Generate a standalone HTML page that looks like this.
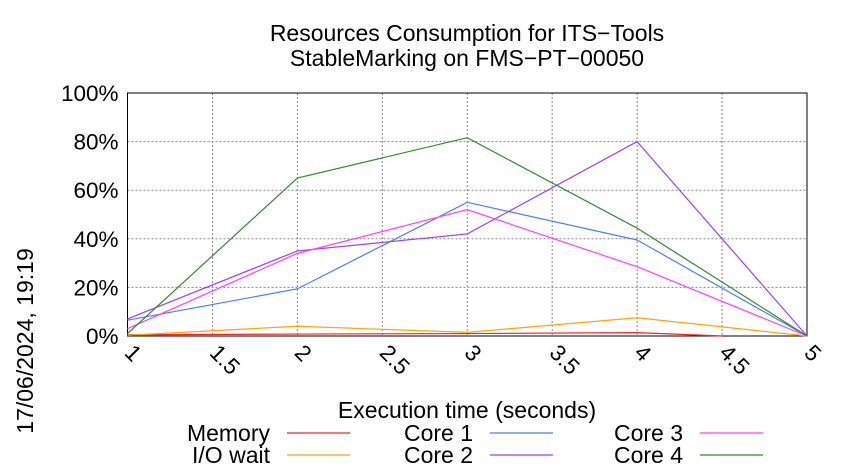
<!DOCTYPE html>
<html><head><meta charset="utf-8"><style>
body{margin:0;background:#fff}
svg{display:block;font-family:"Liberation Sans",sans-serif}
</style></head><body>
<svg id="chart" width="850" height="475" viewBox="0 0 850 475">
<rect width="850" height="475" fill="#fff"/>
<text x="467" y="41" text-anchor="middle" font-size="23">Resources Consumption for ITS−Tools</text>
<text x="467" y="66" text-anchor="middle" font-size="23">StableMarking on FMS−PT−00050</text>
<text transform="translate(33,341) rotate(-90)" text-anchor="middle" font-size="23">17/06/2024, 19:19</text>
<text x="467" y="418" text-anchor="middle" font-size="23">Execution time (seconds)</text>
<g id="grid"></g><g id="axes"></g><g id="series"></g><g id="legend"></g>
</svg>
<script>
const xTicks=[1,1.5,2,2.5,3,3.5,4,4.5,5];
const xTickLabels=["1","1.5","2","2.5","3","3.5","4","4.5","5"];
const yTicks=[0,20,40,60,80,100];
const yTickLabels=["0%","20%","40%","60%","80%","100%"];
const memoryX=[1,2,3,4,4.5];
const memoryY=[0.5,0.8,1,1.4,0];
const timeX=[1,2,3,4,5];
const ioWait=[0.3,4,1.5,7.5,0];
const core1=[6.5,19.4,55,39.5,0];
const core2=[7,35,42,80,0];
const core3=[3,34,52,28.5,0];
const core4=[1,65,81.6,44.4,0];
const seriesNames=["Memory","I/O wait","Core 1","Core 2","Core 3","Core 4"];
const seriesColors=["#ff2020","#ffa500","#4a7ef0","#9a40f0","#ff40ff","#2e8b2e"];
const L=127.5,R=807,T=93,B=336;
const sx=v=>L+(v-1)/4*(R-L);
const sy=v=>B-v/100*(B-T);
const NS="http://www.w3.org/2000/svg";
function mk(t,a,p){const e=document.createElementNS(NS,t);for(const k in a)e.setAttribute(k,a[k]);p.appendChild(e);return e;}
const grid=document.getElementById('grid'),axes=document.getElementById('axes'),ser=document.getElementById('series'),leg=document.getElementById('legend');
xTicks.forEach((v,i)=>{
 if(i>0&&i<xTicks.length-1){const g=mk('line',{x1:sx(v),x2:sx(v),y1:T,y2:B,stroke:'#888','stroke-dasharray':'2,2','stroke-width':1},grid);
 
 }
 const t=mk('text',{transform:`translate(${sx(v)-4},${B+18}) rotate(45)`,'font-size':22.5},axes);
 t.textContent=xTickLabels[i];
 
 
});
yTicks.forEach((v,i)=>{
 if(i>0){const g=mk('line',{x1:L,x2:R,y1:sy(v),y2:sy(v),stroke:'#888','stroke-dasharray':'2,2','stroke-width':1},grid);
 
 }
 const t=mk('text',{x:L-9,y:sy(v)+8,'text-anchor':'end','font-size':22.5},axes);
 t.textContent=yTickLabels[i];
 
 
});
const frame=mk('rect',{x:L,y:T,width:R-L,height:B-T,fill:'none',stroke:'#000','stroke-width':1},axes);


const data=[[memoryX,memoryY],[timeX,ioWait],[timeX,core1],[timeX,core2],[timeX,core3],[timeX,core4]];
data.forEach((d,i)=>{
 const pts=d[0].map((x,j)=>sx(x)+','+sy(d[1][j])).join(' ');
 const p=mk('polyline',{points:pts,fill:'none',stroke:seriesColors[i],'stroke-width':1.2},ser);
 
 
});
const lx=[270,473,683],ly=[441,463];
seriesNames.forEach((n,i)=>{
 const c=Math.floor(i/2),r=i%2;
 const t=mk('text',{x:lx[c],y:ly[r],'text-anchor':'end','font-size':23},leg);
 t.textContent=n;
 
 
 const l=mk('line',{x1:lx[c]+17,x2:lx[c]+80,y1:ly[r]-8,y2:ly[r]-8,stroke:seriesColors[i],'stroke-width':1.2},leg);
 
 
});
</script>
</body></html>
